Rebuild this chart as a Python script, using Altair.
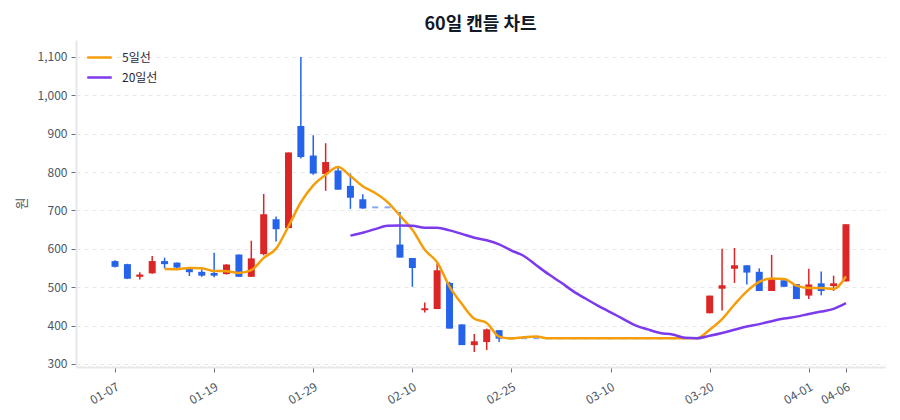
import altair as alt
import pandas as pd

dates = ["01-07", "01-08", "01-09", "01-12", "01-13", "01-14", "01-15", "01-16", "01-19", "01-20",
         "01-21", "01-22", "01-23", "01-26", "01-27", "01-28", "01-29", "01-30", "02-02", "02-03",
         "02-04", "02-05", "02-06", "02-09", "02-10", "02-11", "02-12", "02-13", "02-19", "02-20",
         "02-23", "02-24", "02-25", "02-26", "02-27", "03-03", "03-04", "03-05", "03-06", "03-09",
         "03-10", "03-11", "03-12", "03-13", "03-16", "03-17", "03-18", "03-19", "03-20", "03-23",
         "03-24", "03-25", "03-26", "03-27", "03-30", "03-31", "04-01", "04-02", "04-03", "04-06"]

opens = [568, 560, 527, 536, 568, 564, 549, 540, 537, 534,
         585, 527, 586, 677, 654, 920, 843, 795, 804, 764,
         729, 708, 708, 611, 576, 440, 443, 511, 403, 349,
         357, 388, 367, 367, 367, 367, 367, 367, 367, 367,
         367, 367, 367, 367, 367, 367, 367, 367, 432, 496,
         548, 557, 540, 490, 518, 508, 478, 510, 503, 515]
highs = [570, 561, 539, 581, 577, 564, 549, 546, 590, 560,
         585, 621, 743, 684, 851, 1100, 896, 875, 814, 796,
         742, 708, 708, 696, 576, 460, 562, 514, 403, 378,
         392, 388, 367, 367, 367, 367, 367, 367, 367, 367,
         367, 367, 367, 367, 367, 367, 367, 367, 478, 600,
         602, 557, 549, 584, 518, 508, 548, 541, 530, 664]
lows = [551, 521, 520, 535, 549, 550, 529, 527, 526, 533,
        527, 527, 583, 619, 654, 835, 793, 751, 754, 704,
        704, 708, 708, 577, 501, 434, 443, 392, 349, 331,
        336, 357, 367, 367, 367, 367, 367, 367, 367, 367,
        367, 367, 367, 367, 367, 367, 367, 367, 432, 439,
        511, 507, 490, 490, 501, 469, 469, 479, 490, 515]
closes = [553, 522, 533, 568, 560, 551, 539, 530, 530, 559,
          527, 575, 690, 651, 851, 839, 796, 826, 754, 733,
          705, 708, 708, 577, 550, 445, 544, 392, 349, 359,
          390, 366, 367, 367, 367, 367, 367, 367, 367, 367,
          367, 367, 367, 367, 367, 367, 367, 367, 478, 505,
          557, 538, 490, 522, 501, 469, 507, 490, 510, 664]

tick_idx = [0, 8, 16, 24, 32, 40, 48, 56, 59]
y_ticks = [300, 400, 500, 600, 700, 800, 900, 1000, 1100]
series_names = ["5일선", "20일선"]

RED = "#dc2626"
BLUE = "#2563eb"
ORANGE = "#f59e0b"
PURPLE = "#7c3aed"
FONT = "Noto Sans CJK KR"

df = pd.DataFrame({
    "idx": list(range(len(dates))),
    "date": dates,
    "open": opens,
    "high": highs,
    "low": lows,
    "close": closes,
})

label_expr = "[" + ",".join("'" + d + "'" for d in dates) + "][datum.value]"

x_enc = alt.X(
    "idx:Q",
    scale=alt.Scale(domain=[-3.15, 62.15], nice=False, zero=False, padding=0),
    axis=alt.Axis(values=tick_idx, labelExpr=label_expr, labelAngle=-30, title=None,
                  grid=False, labelFontSize=12, labelColor="#4b5563", tickColor="#6b7280",
                  tickSize=5, domainColor="#e5e7eb", domainWidth=2, labelPadding=9),
)
y_scale = alt.Scale(domain=[292, 1144], nice=False, zero=False, padding=0)
y_axis = alt.Axis(values=y_ticks, format=",d", title="원", titleFontSize=13,
                  titleFontWeight="normal", titleColor="#4b5563", titleX=-48, titleY=163,
                  labelFontSize=12, labelColor="#4b5563", tickColor="#6b7280", tickSize=5,
                  domainColor="#e5e7eb", domainWidth=2, gridDash=[4, 4], gridColor="#e5e7eb",
                  labelPadding=4)

base = alt.Chart(df)
candle_color = alt.condition("datum.close > datum.open", alt.value(RED), alt.value(BLUE))

wicks = base.mark_rule(strokeWidth=1.5).encode(
    x=x_enc,
    y=alt.Y("low:Q", scale=y_scale, axis=y_axis),
    y2="high:Q",
    color=candle_color,
)

bodies = base.transform_filter("datum.open != datum.close").mark_bar(size=7).encode(
    x=x_enc,
    y=alt.Y("open:Q", scale=y_scale),
    y2="close:Q",
    color=candle_color,
)

doji = base.transform_filter("datum.open == datum.close").mark_tick(
    orient="horizontal", thickness=2, size=6, color=BLUE, opacity=0.55
).encode(
    x=x_enc,
    y=alt.Y("close:Q", scale=y_scale),
)

color_scale = alt.Scale(domain=series_names, range=[ORANGE, PURPLE])
legend = alt.Legend(orient="none", legendX=10, legendY=4, title=None, symbolType="stroke",
                    symbolSize=600, symbolStrokeWidth=2.5, labelFontSize=12,
                    labelColor="#1f2937", direction="vertical", padding=0, labelOffset=9,
                    rowPadding=0)

ma5 = base.transform_window(
    ma="mean(close)", cnt="count()", frame=[-4, 0], sort=[alt.SortField("idx")]
).transform_filter("datum.cnt >= 5").transform_calculate(
    series="'5일선'"
).mark_line(strokeWidth=2.5, interpolate="monotone").encode(
    x=x_enc,
    y=alt.Y("ma:Q", scale=y_scale),
    color=alt.Color("series:N", scale=color_scale, legend=legend),
)

ma20 = base.transform_window(
    ma="mean(close)", cnt="count()", frame=[-19, 0], sort=[alt.SortField("idx")]
).transform_filter("datum.cnt >= 20").transform_calculate(
    series="'20일선'"
).mark_line(strokeWidth=2.5, interpolate="monotone").encode(
    x=x_enc,
    y=alt.Y("ma:Q", scale=y_scale),
    color=alt.Color("series:N", scale=color_scale, legend=legend),
)

chart = alt.layer(wicks, bodies, doji, ma5, ma20).properties(
    width=809,
    height=327,
    title=alt.TitleParams("60일 캔들 차트", fontSize=18, fontWeight="bold", color="#111827",
                          anchor="middle", offset=6, font=FONT),
    autosize=alt.AutoSizeParams(type="none"),
    padding={"left": 68, "top": 32, "right": 7, "bottom": 45},
).configure(
    font=FONT,
).configure_view(
    stroke=None,
).configure_axis(
    labelFont=FONT, titleFont=FONT,
).configure_legend(
    labelFont=FONT,
)

chart.save("out.html", embed_options={"renderer": "svg", "actions": False})
